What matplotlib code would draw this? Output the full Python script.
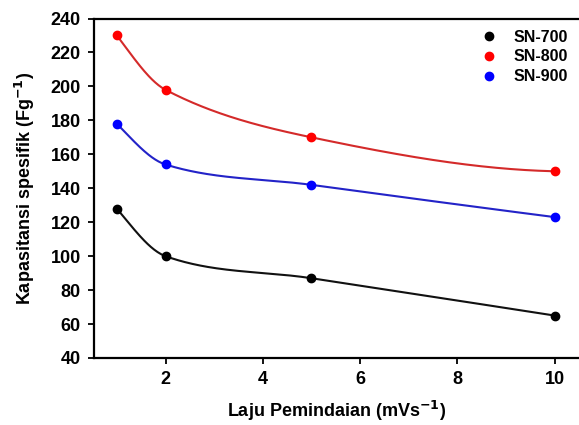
import numpy as np
import matplotlib
matplotlib.use("Agg")
import matplotlib.pyplot as plt

scan_rate = [1, 2, 5, 10]
sn700 = [128, 100, 87, 65]
sn800 = [230, 198, 170, 150]
sn900 = [178, 154, 142, 123]
labels = ["SN-700", "SN-800", "SN-900"]
x_ticks = [2, 4, 6, 8, 10]
y_ticks = [40, 60, 80, 100, 120, 140, 160, 180, 200, 220, 240]

plt.rcParams['font.family'] = ['Liberation Sans', 'DejaVu Sans']
plt.rcParams['font.weight'] = 'bold'
plt.rcParams['mathtext.default'] = 'bf'


def smooth_curve(x, y, xs):
    """Cubic Hermite curve through the points (Catmull-Rom style slopes)."""
    x = np.asarray(x, float); y = np.asarray(y, float)
    h = np.diff(x); d = np.diff(y) / h
    n = len(x); m = np.zeros(n)
    for k in range(1, n - 1):
        m[k] = (y[k + 1] - y[k - 1]) / (x[k + 1] - x[k - 1])
    m[0] = ((2 * h[0] + h[1]) * d[0] - h[0] * d[1]) / (h[0] + h[1])
    m[-1] = ((2 * h[-1] + h[-2]) * d[-1] - h[-1] * d[-2]) / (h[-1] + h[-2])
    out = np.empty_like(xs)
    for i, xv in enumerate(xs):
        k = min(max(np.searchsorted(x, xv) - 1, 0), n - 2)
        t = (xv - x[k]) / h[k]
        h00 = 2 * t**3 - 3 * t**2 + 1; h10 = t**3 - 2 * t**2 + t
        h01 = -2 * t**3 + 3 * t**2; h11 = t**3 - t**2
        out[i] = h00 * y[k] + h10 * h[k] * m[k] + h01 * y[k + 1] + h11 * h[k] * m[k + 1]
    return out


fig = plt.figure(figsize=(5.79, 4.25), dpi=100)
ax = fig.add_axes([94 / 579, 1 - 358 / 425, 1 - 94 / 579, (358 - 18.5) / 425])

series = [(sn700, '#000000', '#111111'), (sn800, '#ff0000', '#d42a2a'), (sn900, '#0000ff', '#2323c8')]
xs = np.linspace(1, 10, 400)
for (ys, mc, lc), lab in zip(series, labels):
    ax.plot(xs, smooth_curve(scan_rate, ys, xs), color=lc, lw=1.5, zorder=2)
    ax.plot(scan_rate, ys, 'o', color=mc, ms=6, zorder=3, label=lab)

ax.set_xlim(0.53, 10.5)
ax.set_ylim(40, 240)
ax.set_xticks(x_ticks)
ax.set_yticks(y_ticks)
ax.tick_params(direction='out', length=4, width=1.3, pad=5.5, labelsize=13, top=False, right=False)
for lab in ax.get_xticklabels() + ax.get_yticklabels():
    lab.set_fontweight('bold')
for s in ['left', 'bottom', 'top']:
    ax.spines[s].set_linewidth(1.6)
ax.spines['right'].set_visible(False)

ax.set_xlabel("Laju Pemindaian (mVs$^{-1}$)", fontsize=13, fontweight='bold', labelpad=8)
ax.set_ylabel("Kapasitansi spesifik (Fg$^{-1}$)", fontsize=13, fontweight='bold', labelpad=10)

leg = ax.legend(loc='upper right', bbox_to_anchor=(1.0, 1.0), frameon=False, fontsize=11.5,
                handletextpad=0.9, labelspacing=0.3, markerscale=1.0, borderaxespad=0.3,
                handlelength=1.2)
for t in leg.get_texts():
    t.set_fontweight('bold')

fig.savefig("out.png", dpi=100)
